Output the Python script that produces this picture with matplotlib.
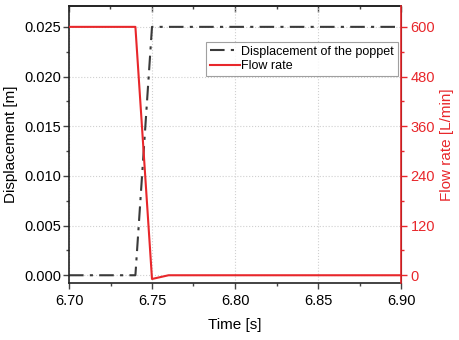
import matplotlib
matplotlib.use("Agg")
import matplotlib.pyplot as plt
from matplotlib.ticker import MultipleLocator, FormatStrFormatter

plt.rcParams['font.family'] = ['Liberation Sans', 'DejaVu Sans']

time_disp = [6.70, 6.74, 6.75, 6.90]
displacement = [0.0, 0.0, 0.025, 0.025]
time_flow = [6.70, 6.74, 6.75, 6.76, 6.90]
flow = [600, 600, -9, 0, 0]

red = '#e8272b'
dark = '#3a3a3a'

fig = plt.figure(figsize=(4.59, 3.40), dpi=100)
ax = fig.add_axes([69/459, 1-283/340, (401-69)/459, (283-6)/340])
ax2 = ax.twinx()

l1, = ax.plot(time_disp, displacement, color=dark, lw=1.5, linestyle=(0, (7, 3, 1.5, 3)),
              label='Displacement of the poppet')
l2, = ax2.plot(time_flow, flow, color=red, lw=1.5, label='Flow rate')

ax.set_xlim(6.70, 6.90)
ax.set_ylim(-0.00078, 0.0271)
ax2.set_ylim(-0.00078*24000, 0.0271*24000)

ax.xaxis.set_major_locator(MultipleLocator(0.05))
ax.xaxis.set_minor_locator(MultipleLocator(0.025))
ax.xaxis.set_major_formatter(FormatStrFormatter('%.2f'))
ax.yaxis.set_major_locator(MultipleLocator(0.005))
ax.yaxis.set_minor_locator(MultipleLocator(0.0025))
ax.yaxis.set_major_formatter(FormatStrFormatter('%.3f'))
ax2.yaxis.set_major_locator(MultipleLocator(120))
ax2.yaxis.set_minor_locator(MultipleLocator(60))

ax.grid(True, which='major', color='#d0d0d0', linestyle=':', lw=0.8)
ax.set_axisbelow(True)

ax.tick_params(axis='both', which='both', direction='out', labelsize=10.5, color='#444444')
ax.tick_params(axis='both', which='major', length=4, width=1)
ax.tick_params(axis='both', which='minor', length=2.5, width=1)
ax.tick_params(axis='y', which='major', pad=1.8)
ax.tick_params(axis='x', which='major', pad=4)

# top inward ticks
top = ax.secondary_xaxis('top')
top.xaxis.set_major_locator(MultipleLocator(0.05))
top.xaxis.set_minor_locator(MultipleLocator(0.025))
top.tick_params(axis='x', which='both', direction='in', labeltop=False, color='#444444', width=1)
top.tick_params(axis='x', which='major', length=4)
top.tick_params(axis='x', which='minor', length=2.5)
top.spines['top'].set_color('#222222')
top.spines['top'].set_linewidth(1.2)

ax2.tick_params(axis='y', which='both', direction='out', colors=red, labelsize=10.5)
ax2.tick_params(axis='y', which='major', length=4, width=1, pad=3)
ax2.tick_params(axis='y', which='minor', length=2.5, width=1)

for s in ['left', 'bottom', 'top']:
    ax.spines[s].set_color('#222222')
    ax.spines[s].set_linewidth(1.2)
ax2.spines['right'].set_color(red)
ax2.spines['right'].set_linewidth(1.2)
for s in ['left', 'bottom', 'top']:
    ax2.spines[s].set_visible(False)

ax.set_xlabel('Time [s]', fontsize=11, labelpad=7)
ax.set_ylabel('Displacement [m]', fontsize=11, labelpad=4)
ax2.set_ylabel('Flow rate [L/min]', fontsize=11, color=red, labelpad=3)

leg = ax2.legend([l1, l2], [l1.get_label(), l2.get_label()], loc='upper left',
                 bbox_to_anchor=((206-69)/332, (283-42)/277), fontsize=9, frameon=True,
                 fancybox=False, edgecolor='#888888', handlelength=2.4, handletextpad=0.1,
                 borderpad=0.3, labelspacing=0.2, borderaxespad=0)
leg.get_frame().set_linewidth(0.8)

fig.savefig('out.png', dpi=100)
